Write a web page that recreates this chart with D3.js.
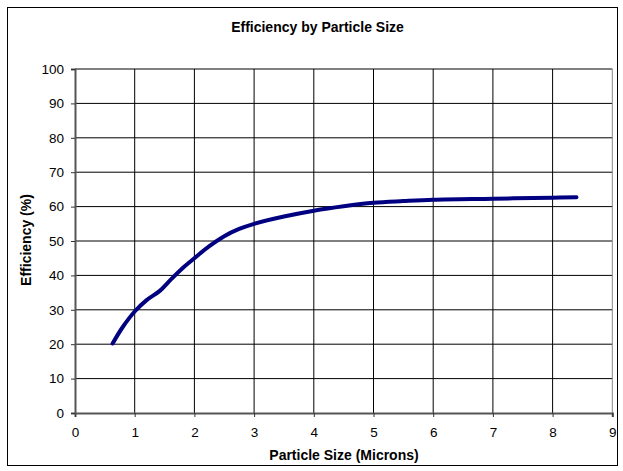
<!DOCTYPE html>
<html>
<head>
<meta charset="utf-8">
<script src="https://cdn.jsdelivr.net/npm/d3@7"></script>
<style>
  body { margin: 0; background: #fff; }
  text { font-family: "Liberation Sans", Arial, sans-serif; }
</style>
</head>
<body>
<div id="chart"></div>
<script>
// particle size (microns) vs efficiency (%)
var sizes      = [0.63, 0.8, 1.0, 1.2, 1.42, 1.6, 1.8, 2.0, 2.25, 2.5, 2.75, 3.0, 3.5, 4.0, 4.5, 5.0, 5.5, 6.0, 7.0, 8.0, 8.4];
var efficiency = [20.2, 25.0, 29.5, 32.8, 35.5, 38.7, 42.1, 45.0, 48.5, 51.4, 53.5, 55.0, 57.1, 58.8, 60.1, 61.1, 61.6, 62.0, 62.3, 62.6, 62.7];
var xTicks = [0, 1, 2, 3, 4, 5, 6, 7, 8, 9];
var yTicks = [0, 10, 20, 30, 40, 50, 60, 70, 80, 90, 100];

var data = sizes.map(function (s, i) { return {x: s, y: efficiency[i]}; });

var width = 623, height = 471;
var plot = {left: 75, right: 612.3, top: 69, bottom: 413};

var svg = d3.select('#chart')
    .append('svg')
        .attr('width', width)
        .attr('height', height);

// outer frame
svg.append('rect')
    .attr('x', 7.5).attr('y', 7.5)
    .attr('width', 610).attr('height', 458)
    .attr('fill', '#fff')
    .attr('stroke', '#000')
    .attr('stroke-width', 1);

var xScale = d3.scaleLinear().domain([0, 9]).range([plot.left, plot.right]);
var yScale = d3.scaleLinear().domain([0, 100]).range([plot.bottom, plot.top]);

// grid
svg.append('g').selectAll('line')
    .data(yTicks.slice(1))
    .enter().append('line')
        .attr('x1', plot.left).attr('x2', plot.right)
        .attr('y1', function (d) { return yScale(d); })
        .attr('y2', function (d) { return yScale(d); })
        .attr('stroke', '#000').attr('stroke-width', 1);

svg.append('g').selectAll('line')
    .data(xTicks.slice(1))
    .enter().append('line')
        .attr('y1', plot.top).attr('y2', plot.bottom)
        .attr('x1', function (d) { return xScale(d); })
        .attr('x2', function (d) { return xScale(d); })
        .attr('stroke', function (d) { return d === 9 ? '#888' : '#000'; })
        .attr('stroke-width', 1);

// axes
var xAxis = svg.append('g')
    .attr('transform', 'translate(0,' + plot.bottom + ')')
    .call(d3.axisBottom(xScale).tickValues(xTicks).tickSize(4).tickPadding(10));
var yAxis = svg.append('g')
    .attr('transform', 'translate(' + plot.left + ',0)')
    .call(d3.axisLeft(yScale).tickValues(yTicks).tickSize(4).tickPadding(7));

[xAxis, yAxis].forEach(function (a) {
    a.select('.domain').attr('stroke', '#555').attr('stroke-width', 2);
    a.selectAll('.tick line').attr('stroke', '#333');
    a.selectAll('text')
        .attr('font-family', '"Liberation Sans", Arial, sans-serif')
        .attr('font-size', 13.5)
        .attr('fill', '#000');
});

// curve
var line = d3.line()
    .x(function (d) { return xScale(d.x); })
    .y(function (d) { return yScale(d.y); })
    .curve(d3.curveCatmullRom.alpha(0.5));

svg.append('path')
    .datum(data)
    .attr('d', line)
    .attr('fill', 'none')
    .attr('stroke', '#000080')
    .attr('stroke-width', 4)
    .attr('stroke-linecap', 'round');

// titles
svg.append('text')
    .attr('x', 317.5).attr('y', 32)
    .attr('text-anchor', 'middle')
    .attr('font-weight', 'bold').attr('font-size', 14)
    .text('Efficiency by Particle Size');

svg.append('text')
    .attr('x', 344).attr('y', 459.5)
    .attr('text-anchor', 'middle')
    .attr('font-weight', 'bold').attr('font-size', 14)
    .text('Particle Size (Microns)');

svg.append('text')
    .attr('transform', 'translate(30.5,240) rotate(-90)')
    .attr('text-anchor', 'middle')
    .attr('font-weight', 'bold').attr('font-size', 14)
    .text('Efficiency (%)');
</script>
</body>
</html>
